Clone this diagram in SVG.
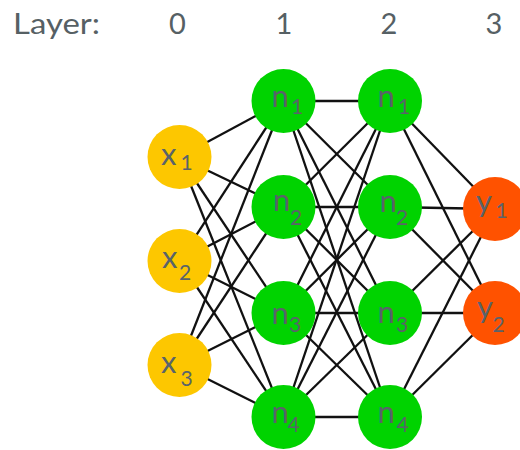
<svg xmlns="http://www.w3.org/2000/svg" width="520" height="450" viewBox="0 0 520 450">
<style>
.hdr{font-family:Lato,"Open Sans","DejaVu Sans",sans-serif;font-size:29px;fill:#566064}
.lbl{font-family:Lato,"Open Sans","DejaVu Sans",sans-serif;font-size:31px;fill:#59636a}
.sub{font-size:21px}
.e{stroke:#111111;stroke-width:2.3;fill:none}
.in{fill:#fdc700}
.hid{fill:#00d300}
.out{fill:#ff5200}
</style>
<rect width="520" height="450" fill="#ffffff"/>
<g id="header">
<text class="hdr" x="13" y="34" textLength="87" lengthAdjust="spacingAndGlyphs">Layer:</text>
<text class="hdr" x="177.5" y="34" text-anchor="middle">0</text>
<text class="hdr" x="284" y="34" text-anchor="middle">1</text>
<text class="hdr" x="389" y="34" text-anchor="middle">2</text>
<text class="hdr" x="494" y="34" text-anchor="middle">3</text>
</g>
<g id="connectors" class="e">
<line x1="179.5" y1="157" x2="283.5" y2="101"/>
<line x1="179.5" y1="157" x2="283.5" y2="207"/>
<line x1="179.5" y1="157" x2="283.5" y2="313"/>
<line x1="179.5" y1="157" x2="283.5" y2="417"/>
<line x1="179.5" y1="261" x2="283.5" y2="101"/>
<line x1="179.5" y1="261" x2="283.5" y2="207"/>
<line x1="179.5" y1="261" x2="283.5" y2="313"/>
<line x1="179.5" y1="261" x2="283.5" y2="417"/>
<line x1="179.5" y1="365" x2="283.5" y2="101"/>
<line x1="179.5" y1="365" x2="283.5" y2="207"/>
<line x1="179.5" y1="365" x2="283.5" y2="313"/>
<line x1="179.5" y1="365" x2="283.5" y2="417"/>
<line x1="283.5" y1="101" x2="390" y2="101"/>
<line x1="283.5" y1="101" x2="390" y2="207"/>
<line x1="283.5" y1="101" x2="390" y2="313"/>
<line x1="283.5" y1="101" x2="390" y2="417"/>
<line x1="283.5" y1="207" x2="390" y2="101"/>
<line x1="283.5" y1="207" x2="390" y2="207"/>
<line x1="283.5" y1="207" x2="390" y2="313"/>
<line x1="283.5" y1="207" x2="390" y2="417"/>
<line x1="283.5" y1="313" x2="390" y2="101"/>
<line x1="283.5" y1="313" x2="390" y2="207"/>
<line x1="283.5" y1="313" x2="390" y2="313"/>
<line x1="283.5" y1="313" x2="390" y2="417"/>
<line x1="283.5" y1="417" x2="390" y2="101"/>
<line x1="283.5" y1="417" x2="390" y2="207"/>
<line x1="283.5" y1="417" x2="390" y2="313"/>
<line x1="283.5" y1="417" x2="390" y2="417"/>
<line x1="390" y1="101" x2="495" y2="209"/>
<line x1="390" y1="101" x2="495" y2="313"/>
<line x1="390" y1="207" x2="495" y2="209"/>
<line x1="390" y1="207" x2="495" y2="313"/>
<line x1="390" y1="313" x2="495" y2="209"/>
<line x1="390" y1="313" x2="495" y2="313"/>
<line x1="390" y1="417" x2="495" y2="209"/>
<line x1="390" y1="417" x2="495" y2="313"/>
</g>
<g id="x1"><circle class="in" cx="179.5" cy="157" r="32"/><text class="lbl"><tspan x="161" y="165">x</tspan><tspan class="sub" x="180.5" y="170">1</tspan></text></g>
<g id="x2"><circle class="in" cx="179.5" cy="261" r="32"/><text class="lbl"><tspan x="162" y="268">x</tspan><tspan class="sub" x="179" y="280">2</tspan></text></g>
<g id="x3"><circle class="in" cx="179.5" cy="365" r="32"/><text class="lbl"><tspan x="161" y="373">x</tspan><tspan class="sub" x="180.5" y="386">3</tspan></text></g>
<g id="h1_1"><circle class="hid" cx="283.5" cy="101" r="32"/><text class="lbl"><tspan x="271.5" y="107">n</tspan><tspan class="sub" x="291" y="114">1</tspan></text></g>
<g id="h1_2"><circle class="hid" cx="283.5" cy="207" r="32"/><text class="lbl"><tspan x="273" y="211">n</tspan><tspan class="sub" x="290" y="225">2</tspan></text></g>
<g id="h1_3"><circle class="hid" cx="283.5" cy="313" r="32"/><text class="lbl"><tspan x="271.5" y="324">n</tspan><tspan class="sub" x="289" y="332">3</tspan></text></g>
<g id="h1_4"><circle class="hid" cx="283.5" cy="417" r="32"/><text class="lbl"><tspan x="271.5" y="423">n</tspan><tspan class="sub" x="287.5" y="432">4</tspan></text></g>
<g id="h2_1"><circle class="hid" cx="390" cy="101" r="32"/><text class="lbl"><tspan x="377.5" y="107">n</tspan><tspan class="sub" x="398" y="114">1</tspan></text></g>
<g id="h2_2"><circle class="hid" cx="390" cy="207" r="32"/><text class="lbl"><tspan x="379.5" y="212">n</tspan><tspan class="sub" x="396" y="225">2</tspan></text></g>
<g id="h2_3"><circle class="hid" cx="390" cy="313" r="32"/><text class="lbl"><tspan x="377.5" y="323">n</tspan><tspan class="sub" x="396" y="332">3</tspan></text></g>
<g id="h2_4"><circle class="hid" cx="390" cy="417" r="32"/><text class="lbl"><tspan x="377.5" y="423">n</tspan><tspan class="sub" x="396.5" y="432">4</tspan></text></g>
<g id="y1"><circle class="out" cx="495" cy="209" r="32"/><text class="lbl"><tspan x="476" y="212">y</tspan><tspan class="sub" x="495.5" y="218">1</tspan></text></g>
<g id="y2"><circle class="out" cx="495" cy="313" r="32"/><text class="lbl"><tspan x="477" y="318">y</tspan><tspan class="sub" x="492.5" y="332">2</tspan></text></g>
</svg>
